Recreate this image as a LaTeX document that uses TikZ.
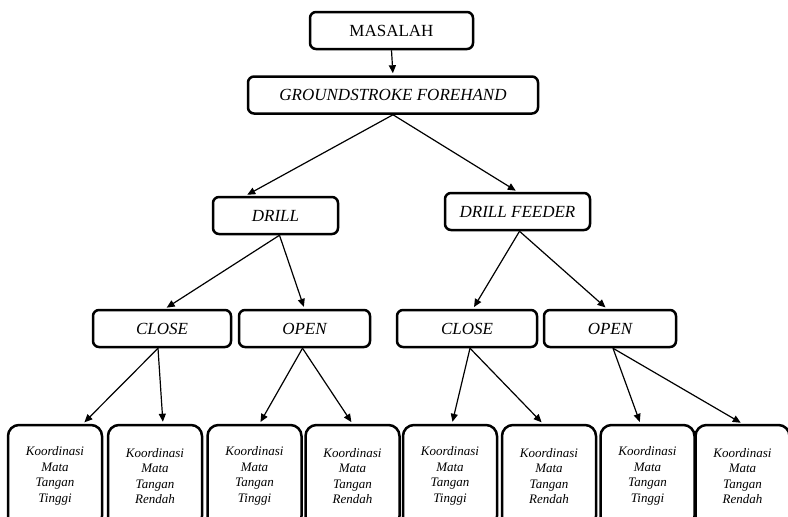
\documentclass[tikz,border=0pt]{standalone}
\usepackage{fontspec}
\setmainfont{Liberation Serif}
\usetikzlibrary{arrows.meta,positioning}

\tikzset{
  kotak/.style={draw, line width=2.5pt, rounded corners=6pt, minimum height=37pt,
    inner sep=2pt, font=\fontsize{17}{20}\selectfont},
  hasil/.style={draw, line width=2.5pt, rounded corners=11pt, minimum width=94pt,
    minimum height=102pt, align=center, inner sep=1pt,
    font=\fontsize{13}{15.5}\selectfont\itshape},
  panah/.style={-{Triangle[length=8pt,width=7pt]}, line width=1.2pt, shorten >=2pt}
}

\begin{document}
\begin{tikzpicture}[x=1pt, y=-1pt]
        \clip (0,0) rectangle (788,517);

        \node[kotak, minimum width=163pt] (masalah) at (391.5,30.5) {MASALAH};
        \node[kotak, minimum width=290pt, font=\fontsize{17}{20}\selectfont\itshape] (ground) at (393,95) {GROUNDSTROKE FOREHAND};

        \node[kotak, minimum width=125pt, font=\fontsize{17}{20}\selectfont\itshape] (drill) at (275.5,215.5) {DRILL};
        \node[kotak, minimum width=145pt, font=\fontsize{17}{20}\selectfont\itshape] (feeder) at (517.5,211.5) {DRILL FEEDER};

        \node[kotak, minimum width=138pt, font=\fontsize{17}{20}\selectfont\itshape] (close1) at (162,328.5) {CLOSE};
        \node[kotak, minimum width=131pt, font=\fontsize{17}{20}\selectfont\itshape] (open1) at (304.5,328.5) {OPEN};
        \node[kotak, minimum width=140pt, font=\fontsize{17}{20}\selectfont\itshape] (close2) at (467,328.5) {CLOSE};
        \node[kotak, minimum width=132pt, font=\fontsize{17}{20}\selectfont\itshape] (open2) at (610,328.5) {OPEN};

        % koordinasi mata tangan
        \node[hasil] (tinggi1) at (55,476) {Koordinasi\\Mata\\Tangan\\Tinggi};
        \node[hasil] (rendah1) at (155,476) {Koordinasi\\Mata\\Tangan\\Rendah};
        \node[hasil] (tinggi2) at (254.5,476) {Koordinasi\\Mata\\Tangan\\Tinggi};
        \node[hasil] (rendah2) at (352.5,476) {Koordinasi\\Mata\\Tangan\\Rendah};
        \node[hasil] (tinggi3) at (450,476) {Koordinasi\\Mata\\Tangan\\Tinggi};
        \node[hasil] (rendah3) at (549,476) {Koordinasi\\Mata\\Tangan\\Rendah};
        \node[hasil] (tinggi4) at (647.5,476) {Koordinasi\\Mata\\Tangan\\Tinggi};
        \node[hasil] (rendah4) at (742.5,476) {Koordinasi\\Mata\\Tangan\\Rendah};

        \draw[panah] (masalah.south) -- (ground.north);
        \draw[panah] (ground.south) -- ([xshift=-30pt]drill.north);
        \draw[panah] (ground.south) -- (feeder.north);

        \draw[panah] ([xshift=4pt]drill.south) -- ([xshift=3pt]close1.north);
        \draw[panah] ([xshift=4pt]drill.south) -- (open1.north);
        \draw[panah] ([xshift=2pt]feeder.south) -- ([xshift=6pt]close2.north);
        \draw[panah] ([xshift=2pt]feeder.south) -- ([xshift=-3pt]open2.north);

        \draw[panah] ([xshift=-4pt]close1.south) -- ([xshift=28pt]tinggi1.north);
        \draw[panah] ([xshift=-4pt]close1.south) -- ([xshift=8pt]rendah1.north);
        \draw[panah] ([xshift=-2pt]open1.south) -- ([xshift=5pt]tinggi2.north);
        \draw[panah] ([xshift=-2pt]open1.south) -- (rendah2.north);
        \draw[panah] ([xshift=3pt]close2.south) -- ([xshift=2pt]tinggi3.north);
        \draw[panah] ([xshift=3pt]close2.south) -- ([xshift=-6pt]rendah3.north);
        \draw[panah] ([xshift=3pt]open2.south) -- ([xshift=-7pt]tinggi4.north);
        \draw[panah] ([xshift=3pt]open2.south) -- (rendah4.north);
\end{tikzpicture}
\end{document}
